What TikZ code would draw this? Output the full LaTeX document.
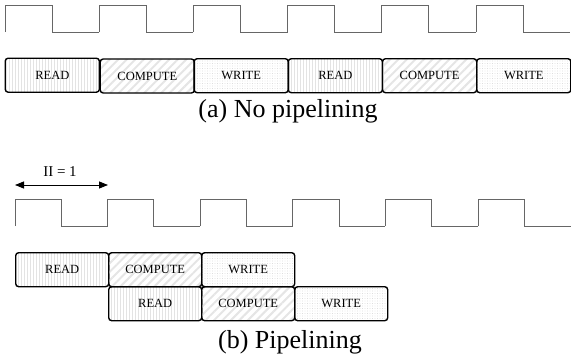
\documentclass[tikz,border=0pt]{standalone}
\usepackage{fontspec}
\setmainfont{Liberation Serif}
\usetikzlibrary{arrows.meta,patterns.meta}

\tikzset{
    stage/.style={draw,line width=1.4pt,rounded corners=3pt,minimum width=#1,minimum height=34pt,inner sep=0pt,anchor=north west,font=\fontsize{12.5}{14}\selectfont},
    rd/.style={pattern={Lines[angle=90,distance=3pt,line width=0.4pt]},pattern color=black!11},
    cp/.style={pattern={Lines[angle=45,distance=6pt,line width=2pt]},pattern color=black!10},
    wr/.style={pattern={Dots[distance=2.5pt,radius=0.45pt]},pattern color=black!20},
    clk/.style={draw=black!60,line width=0.9pt},
    caption/.style={font=\fontsize{26}{30}\selectfont}
}

\begin{document}
\begin{tikzpicture}[x=1pt,y=-1pt]
                \useasboundingbox (0,0) rectangle (571,356);
                \foreach \k in {0,...,5}{
                    \draw[clk] (5+94.2*\k,32)--++(0,-27)--++(47.1,0)--++(0,27)--++(47.1,0);
                    \draw[clk] (15+92.6*\k,226)--++(0,-27)--++(46.3,0)--++(0,27)--++(46.3,0);
                }
                \foreach \lab/\sty [count=\i from 0] in {READ/rd,COMPUTE/cp,WRITE/wr,READ/rd,COMPUTE/cp,WRITE/wr}{
                    \node[stage=94.2pt,\sty] (np\i) at (5+94.2*\i,58){\lab};
                }
                \node[caption] (capa) at (288,111){(a) No pipelining};
                \coordinate (iil) at (15,185);
                \coordinate (iir) at (108,185);
                \node[font=\fontsize{15}{18}\selectfont] (ii) at (60,172){II = 1};
                \draw[line width=0.8pt,{Triangle[length=9pt,width=7pt]}-{Triangle[length=9pt,width=7pt]}] (iil)--(iir);
                \foreach \lab/\sty [count=\i from 0] in {READ/rd,COMPUTE/cp,WRITE/wr}{
                    \node[stage=93pt,\sty] (pa\i) at (15+93*\i,252){\lab};
                    \node[stage=93pt,\sty] (pb\i) at (108+93*\i,286){\lab};
                }
                \node[caption] (capb) at (290,342){(b) Pipelining};
            \end{tikzpicture}
\end{document}
